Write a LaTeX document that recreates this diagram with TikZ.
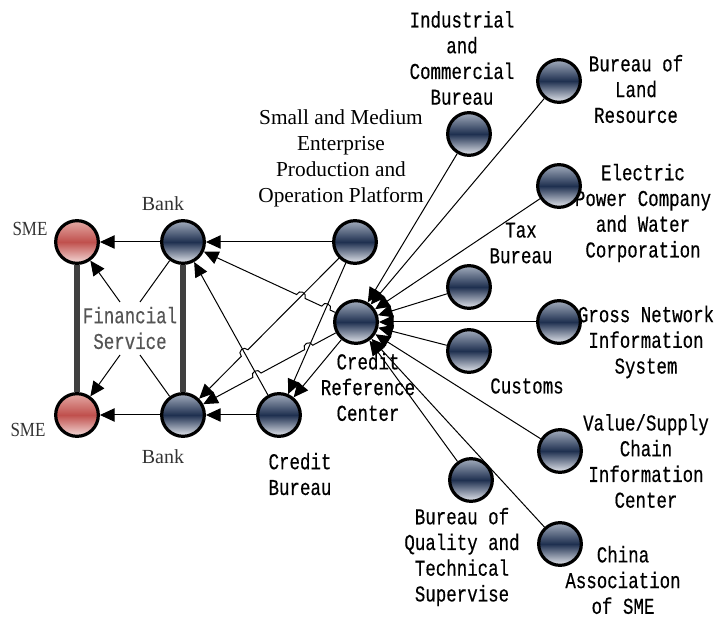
\documentclass[tikz,border=0pt]{standalone}
\usepackage{fontspec}
\setmainfont{Liberation Serif}
\newfontfamily\monof[FakeStretch=0.77,FakeBold=0.4]{Liberation Mono}
\newfontfamily\smef[FakeStretch=0.85]{Liberation Serif}
\usetikzlibrary{arrows.meta,calc,intersections}
\definecolor{navyT}{HTML}{A3ADBD}
\definecolor{navyM}{HTML}{1F3050}
\definecolor{navyB}{HTML}{E6E9EF}
\definecolor{redT}{HTML}{E4AAA5}
\definecolor{redM}{HTML}{C0504D}
\definecolor{redB}{HTML}{F4DCDA}
\definecolor{barc}{HTML}{404040}
\definecolor{fsgray}{HTML}{555555}
\definecolor{bankgray}{HTML}{333333}
\begin{document}
\begin{tikzpicture}[x=0.75pt,y=-0.75pt,
  nd/.style={circle,draw=black,line width=2.4pt,minimum size=32pt,inner sep=0pt,
             top color=navyT,bottom color=navyB,middle color=navyM},
  smenode/.style={circle,draw=black,line width=2.4pt,minimum size=32pt,inner sep=0pt,
             top color=redT,bottom color=redB,middle color=redM},
  ml/.style={font=\monof\fontsize{17}{19.3}\selectfont,align=center,inner sep=0pt},
  sl/.style={font=\fontsize{16}{19.5}\selectfont,align=center,inner sep=0pt},
  bk/.style={font=\fontsize{15}{18}\selectfont,text=bankgray,inner sep=0pt},
  smel/.style={font=\smef\fontsize{15}{18}\selectfont,text=bankgray,inner sep=0pt},
  con/.style={line width=0.75pt},
  arr/.style={con,-{Triangle[length=11pt,width=10pt]}},
  hop/.style={bend right=90,looseness=1.7},
  bar/.style={line width=3.8pt,draw=barc}]
\useasboundingbox (0,0) rectangle (718,620);

% labels (drawn first so circles lie over them)
\node[ml] (lind) at (462,58) {Industrial\\and\\Commercial\\Bureau};
\node[ml] (lland) at (636,89) {Bureau of\\Land\\Resource};
\node[ml] (lelec) at (643,213) {Electric\\Power Company\\and Water\\Corporation};
\node[ml] (ltax) at (521,243) {Tax\\Bureau};
\node[ml] (lgross) at (646,342) {Gross Network\\Information\\System};
\node[ml] (lcust) at (527,386) {Customs};
\node[ml] (lval) at (646,461) {Value/Supply\\Chain\\Information\\Center};
\node[ml] (lqual) at (462,557) {Bureau of\\Quality and\\Technical\\Supervise};
\node[ml] (lchina) at (623,580) {China\\Association\\of SME};
\node[ml] (lcr) at (368,387) {Credit\\Reference\\Center};
\node[ml] (lcb) at (300,474) {Credit\\Bureau};
\node[ml,text=fsgray] (fs) at (130,328) {Financial\\Service};
\node[sl] (lpop) at (341,158) {Small and Medium\\Enterprise\\Production and\\Operation Platform};
\node[bk] (lbt) at (163,204) {Bank};
\node[bk] (lbb) at (163,457) {Bank};
\node[smel] (lst) at (30,229) {SME};
\node[smel] (lsb) at (28,430) {SME};

% circles
\node[smenode] (smet) at (77,242) {};
\node[smenode] (smeb) at (77,415) {};
\node[nd] (bankt) at (183,242) {};
\node[nd] (bankb) at (183,415) {};
\node[nd] (pop) at (355,242) {};
\node[nd] (cr) at (356,322) {};
\node[nd] (cb) at (279,415) {};
\node[nd] (ind) at (469,134) {};
\node[nd] (land) at (559,81) {};
\node[nd] (elec) at (559,186) {};
\node[nd] (tax) at (469,287) {};
\node[nd] (gross) at (559,322) {};
\node[nd] (cust) at (469,351) {};
\node[nd] (val) at (560,451) {};
\node[nd] (qual) at (471,480) {};
\node[nd] (china) at (560,544) {};

% thick bars
\draw[bar] (smet) -- (smeb);
\draw[bar] (bankt) -- (bankb);

% financial service links
\coordinate (fs1) at (120,302);
\coordinate (fs2) at (140,302);
\coordinate (fs3) at (120,355);
\coordinate (fs4) at (140,355);
\draw[con] (bankt) -- (fs2);
\draw[arr] (fs1) -- (smet);
\draw[con] (bankb) -- (fs4);
\draw[arr] (fs3) -- (smeb);

% bank to SME
\draw[arr] (bankt) -- (smet);
\draw[arr] (bankb) -- (smeb);

% right-side sources into the credit reference center
\foreach \n in {ind,land,elec,tax,gross,cust,val,qual,china}
  \draw[arr] (\n) -- (cr);

% middle crossing links
\path[name path=pB] (pop) -- (bankb);
\path[name path=pC] (pop) -- (cb);
\path[name path=cT] (cb) -- (bankt);
\path[name path=rT] (cr) -- (bankt);
\path[name path=rB] (cr) -- (bankb);
\path[name intersections={of=pB and cT, by=x1}];
\path[name intersections={of=rT and pB, by=x2}];
\path[name intersections={of=rT and pC, by=x3}];
\path[name intersections={of=rB and pC, by=x4}];
\path[name intersections={of=rB and cT, by=x5}];

\draw[arr] (pop) -- (bankt);
\draw[arr] (cb) -- (bankb);
\draw[arr] (cb) -- (bankt);
\draw[arr] (pop) -- (cb);
\draw[arr] (cr) -- (cb);
\draw[arr] (pop) -- ($(x1)!3.5pt!(pop)$) to[hop] ($(x1)!3.5pt!(bankb)$) -- (bankb);
\draw[arr] (cr) -- ($(x3)!3.5pt!(cr)$) to[hop] ($(x3)!3.5pt!(bankt)$)
  -- ($(x2)!3.5pt!(cr)$) to[hop] ($(x2)!3.5pt!(bankt)$) -- (bankt);
\draw[arr] (cr) -- ($(x4)!3.5pt!(cr)$) to[hop] ($(x4)!3.5pt!(bankb)$)
  -- ($(x5)!3.5pt!(cr)$) to[hop] ($(x5)!3.5pt!(bankb)$) -- (bankb);
\end{tikzpicture}
\end{document}
